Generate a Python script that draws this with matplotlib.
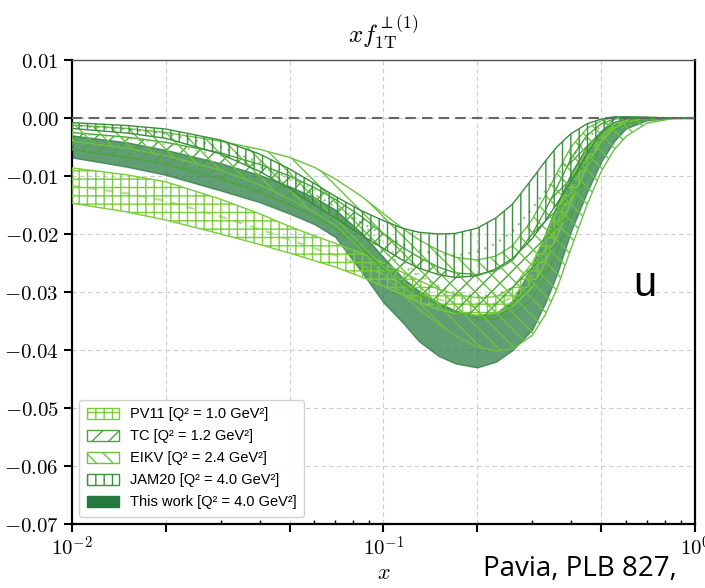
import numpy as np
import matplotlib.pyplot as plt
from matplotlib.patches import Patch
from matplotlib.ticker import FixedLocator, FuncFormatter, NullFormatter

plt.rcParams['mathtext.fontset'] = 'cm'
plt.rcParams['hatch.linewidth'] = 1.0

# x grid (log) and band edges for the u-quark Sivers moment
x = [0.01, 0.015, 0.02, 0.03, 0.04, 0.05, 0.06, 0.07, 0.085, 0.1, 0.115, 0.13, 0.15, 0.17,
     0.2, 0.23, 0.26, 0.3, 0.33, 0.36, 0.4, 0.45, 0.5, 0.55, 0.6, 0.7, 0.85, 1.0]

pv11_hi = [-0.0086, -0.0098, -0.0110, -0.0140, -0.0165, -0.0187, -0.0203, -0.0216, -0.0233, -0.0250,
           -0.0266, -0.0280, -0.0295, -0.0304, -0.0310, -0.0308, -0.0292, -0.0250, -0.0205, -0.0160,
           -0.0105, -0.0055, -0.0025, -0.0011, -0.0005, -0.0001, 0.0, 0.0]
pv11_lo = [-0.0147, -0.0162, -0.0176, -0.0200, -0.0218, -0.0233, -0.0246, -0.0257, -0.0274, -0.0290,
           -0.0305, -0.0318, -0.0330, -0.0337, -0.0340, -0.0337, -0.0325, -0.0292, -0.0250, -0.0205,
           -0.0145, -0.0082, -0.0040, -0.0018, -0.0008, -0.0002, 0.0, 0.0]

tc_hi = [-0.0025, -0.0033, -0.0042, -0.0060, -0.0080, -0.0100, -0.0120, -0.0140, -0.0170, -0.0200,
         -0.0223, -0.0240, -0.0257, -0.0267, -0.0270, -0.0263, -0.0245, -0.0200, -0.0160, -0.0120,
         -0.0070, -0.0030, -0.0010, -0.0002, 0.0001, 0.0001, 0.0, 0.0]
tc_lo = [-0.0055, -0.0068, -0.0080, -0.0105, -0.0128, -0.0150, -0.0170, -0.0190, -0.0225, -0.0260,
         -0.0285, -0.0305, -0.0323, -0.0335, -0.0345, -0.0347, -0.0340, -0.0312, -0.0275, -0.0232,
         -0.0170, -0.0100, -0.0050, -0.0022, -0.0010, -0.0002, 0.0, 0.0]

eikv_hi = [-0.0012, -0.0018, -0.0025, -0.0040, -0.0054, -0.0068, -0.0085, -0.0105, -0.0135, -0.0165,
           -0.0190, -0.0210, -0.0228, -0.0240, -0.0245, -0.0238, -0.0220, -0.0175, -0.0135, -0.0095,
           -0.0050, -0.0018, -0.0005, 0.0001, 0.0002, 0.0001, 0.0, 0.0]
eikv_lo = [-0.0040, -0.0052, -0.0065, -0.0090, -0.0115, -0.0140, -0.0162, -0.0185, -0.0228, -0.0270,
           -0.0303, -0.0330, -0.0355, -0.0375, -0.0395, -0.0402, -0.0398, -0.0375, -0.0340, -0.0295,
           -0.0225, -0.0150, -0.0092, -0.0055, -0.0032, -0.0009, -0.0001, 0.0]

jam20_hi = [-0.0008, -0.0013, -0.0019, -0.0038, -0.0062, -0.0088, -0.0113, -0.0135, -0.0160, -0.0177,
            -0.0190, -0.0197, -0.0200, -0.0199, -0.0190, -0.0172, -0.0148, -0.0105, -0.0075, -0.0050,
            -0.0027, -0.0010, -0.0002, 0.0002, 0.0002, 0.0001, 0.0, 0.0]
jam20_lo = [-0.0018, -0.0026, -0.0035, -0.0062, -0.0092, -0.0122, -0.0150, -0.0172, -0.0202, -0.0225,
            -0.0245, -0.0259, -0.0270, -0.0275, -0.0272, -0.0260, -0.0242, -0.0208, -0.0178, -0.0148,
            -0.0110, -0.0062, -0.0025, -0.0008, -0.0002, 0.0, 0.0, 0.0]

work_hi = [-0.0030, -0.0042, -0.0055, -0.0078, -0.0098, -0.0118, -0.0137, -0.0158, -0.0198, -0.0240,
           -0.0275, -0.0298, -0.0318, -0.0332, -0.0340, -0.0336, -0.0315, -0.0255, -0.0200, -0.0150,
           -0.0095, -0.0048, -0.0022, -0.0010, -0.0005, -0.0001, 0.0, 0.0]
work_lo = [-0.0068, -0.0084, -0.0098, -0.0125, -0.0145, -0.0165, -0.0183, -0.0205, -0.0265, -0.0318,
           -0.0352, -0.0385, -0.0410, -0.0423, -0.0430, -0.0420, -0.0400, -0.0365, -0.0320, -0.0270,
           -0.0195, -0.0128, -0.0075, -0.0040, -0.0018, -0.0004, 0.0, 0.0]

labels = ['PV11 [Q² = 1.0 GeV²]', 'TC [Q² = 1.2 GeV²]', 'EIKV [Q² = 2.4 GeV²]',
          'JAM20 [Q² = 4.0 GeV²]', 'This work [Q² = 4.0 GeV²]']

fig = plt.figure(figsize=(7.05, 5.88), dpi=100)
ax = fig.add_axes([0.1021, 0.1088, 0.8837, 0.7892])

# our band first, hatched bands on top
ax.fill_between(x, work_lo, work_hi, facecolor='#25793f', edgecolor='#25793f',
                alpha=0.72, lw=1.0, zorder=2)

bands = [(pv11_lo, pv11_hi, '#7acc3c', '++', (0, (4, 4))),
         (tc_lo, tc_hi, '#4aa53a', '//', (0, (1, 3))),
         (eikv_lo, eikv_hi, '#6cc044', '\\\\', (0, (1, 3))),
         (jam20_lo, jam20_hi, '#3a8e3e', '||', (0, (1, 3)))]
handles = []
for (lo, hi, c, h, ls), lab in zip(bands, labels[:4]):
    pc = ax.fill_between(x, lo, hi, facecolor='none', edgecolor=c, hatch=h,
                         lw=1.0, zorder=3, label=lab)
    mid = (np.array(lo) + np.array(hi)) / 2
    ax.plot(x, mid, color=c, lw=1.5, ls=ls, alpha=0.6, zorder=3)
    handles.append(pc)
handles.append(Patch(facecolor='#25793f', edgecolor='#25793f', label=labels[4]))

ax.axhline(0, color='#666666', lw=1.5, ls=(0, (5, 3)), zorder=4)

ax.set_xscale('log')
ax.set_xlim(0.01, 1.0)
ax.set_ylim(-0.07, 0.01)

major_x = [0.01, 0.02, 0.05, 0.1, 0.2, 0.5, 1.0]
ax.xaxis.set_major_locator(FixedLocator(major_x))
ax.xaxis.set_major_formatter(FuncFormatter(
    lambda v, p: r'$10^{%d}$' % round(np.log10(v)) if abs(np.log10(v) - round(np.log10(v))) < 1e-6 else ''))
minor_x = [m * d for d in (0.01, 0.1) for m in (3, 4, 6, 7, 8, 9)]
ax.xaxis.set_minor_locator(FixedLocator(minor_x))
ax.xaxis.set_minor_formatter(NullFormatter())

ax.set_yticks(np.arange(-0.07, 0.0101, 0.01))
ax.yaxis.set_major_formatter(FuncFormatter(lambda v, p: r'$%.2f$' % (0.0 if abs(v) < 1e-9 else v)))

ax.tick_params(axis='both', which='major', direction='out', length=6, width=1.5, labelsize=15)
ax.tick_params(axis='x', which='minor', direction='in', length=3, width=1.0)
ax.tick_params(axis='x', which='major', pad=2)

ax.grid(True, which='major', color='#cccccc', ls=(0, (4, 3)), lw=0.8, zorder=0)
ax.set_axisbelow(True)

for side in ('left', 'bottom', 'right'):
    ax.spines[side].set_linewidth(1.6)
    ax.spines[side].set_color('black')
ax.spines['top'].set_linewidth(1.0)
ax.spines['top'].set_color('#555555')

ax.set_title(r'$xf_{1\mathrm{T}}^{\perp(1)}$', fontsize=18, pad=12)
ax.set_xlabel(r'$x$', fontsize=16, labelpad=3)

leg = ax.legend(handles=handles, loc='lower left', prop={'family': 'Liberation Sans', 'size': 10.5},
                labelspacing=0.55, handlelength=2.2, handleheight=0.8, borderpad=0.5,
                framealpha=0.9, edgecolor='#cccccc', fancybox=True)
leg.set_zorder(5)

fig.text(0.915, 0.515, 'u', fontsize=30, family='Liberation Sans', ha='center', va='center')
fig.text(0.685, 0.008, 'Pavia, PLB 827,', fontsize=20, family='Open Sans', ha='left', va='bottom')

fig.savefig('out.png', dpi=100)
